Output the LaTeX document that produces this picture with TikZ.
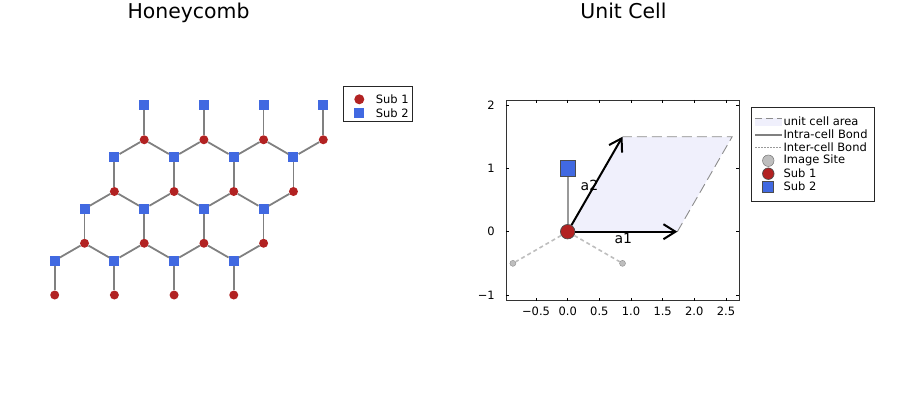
\documentclass[tikz,border=0pt]{standalone}
\usepackage{fontspec}
\setmainfont{DejaVu Sans}
\usetikzlibrary{arrows.meta}

\definecolor{subone}{RGB}{178,34,34}
\definecolor{subtwo}{RGB}{65,105,225}
\definecolor{bondgray}{RGB}{128,128,128}
\definecolor{cellfill}{RGB}{240,240,252}
\definecolor{imggray}{RGB}{190,190,190}

\tikzset{
  sub1/.style={circle, fill=subone, inner sep=0pt, minimum size=9pt},
  sub2/.style={rectangle, fill=subtwo, inner sep=0pt, minimum size=10pt},
  bigsub1/.style={circle, fill=subone, draw=black!70, line width=0.7pt, inner sep=0pt, minimum size=14.5pt},
  bigsub2/.style={rectangle, fill=subtwo, draw=black!70, line width=0.7pt, inner sep=0pt, minimum size=15.5pt},
  imgsite/.style={circle, fill=imggray, draw=black!45, line width=0.4pt, inner sep=0pt, minimum size=6pt},
  bond/.style={draw=bondgray, line width=1.8pt},
  intra/.style={draw=black!40, line width=2.4pt},
  inter/.style={draw=imggray, line width=1.6pt, dash pattern=on 4pt off 3pt},
  celledge/.style={draw=black!45, line width=0.9pt, dash pattern=on 10pt off 5pt},
  vec/.style={draw=black, line width=2pt, -{Straight Barb[length=12pt, width=15pt]}},
  titletext/.style={font=\fontsize{20.4}{24}\selectfont, anchor=base},
  ticktext/.style={font=\fontsize{11.5}{13}\selectfont, inner sep=0pt},
  legtext/.style={font=\fontsize{11.5}{13}\selectfont, anchor=west, inner sep=0pt},
  vectext/.style={font=\fontsize{14}{16}\selectfont, inner sep=0pt}
}

\begin{document}
\begin{tikzpicture}[x=1pt, y=1pt]
\useasboundingbox (0,0) rectangle (900,400);

% titles
\node[titletext] (t1) at (188.5,381.7) {Honeycomb};
\node[titletext] (t2) at (623.5,381.7) {Unit Cell};

% honeycomb lattice
\begin{scope}[shift={(54.7,105)}, x=34.46pt, y=34.5pt]
\foreach \i in {0,...,3}{
  \foreach \j in {0,...,3}{
    \node[sub1] (r\i\j) at ({\i*1.732+\j*0.866},{\j*1.5}) {};
    \node[sub2] (s\i\j) at ({\i*1.732+\j*0.866},{\j*1.5+1}) {};
  }
}
\foreach \i in {0,...,3}{
  \foreach \j in {0,...,3}{
    \draw[bond] (r\i\j) -- (s\i\j);
    \ifnum\j>0
      \pgfmathtruncatemacro\jm{\j-1}
      \draw[bond] (r\i\j) -- (s\i\jm);
      \ifnum\i<3
        \pgfmathtruncatemacro\ip{\i+1}
        \draw[bond] (r\i\j) -- (s\ip\jm);
      \fi
    \fi
  }
}
\end{scope}

% legend of the lattice
\draw[black!85, line width=0.8pt] (343.3,279) rectangle (412.3,314);
\node[sub1, minimum size=10pt] (lg1) at (359.3,300.7) {};
\node[sub2] (lg2) at (359.3,286.7) {};
\node[legtext] (lt1) at (375.7,300.7) {Sub 1};
\node[legtext] (lt2) at (375.7,286.7) {Sub 2};

% unit cell
\begin{scope}[shift={(567.7,168.3)}, x=63.3pt, y=63.3pt]
\fill[cellfill] (0,0) -- (1.732,0) -- (2.598,1.5) -- (0.866,1.5) -- cycle;
\draw[celledge] (1.732,0) -- (2.598,1.5) -- (0.866,1.5);

% frame and ticks
\draw[black!80, line width=0.8pt] (-0.975,-1.09) rectangle (2.706,2.081);
\foreach \x/\t in {-0.5/−0.5, 0/0.0, 0.5/0.5, 1/1.0, 1.5/1.5, 2/2.0, 2.5/2.5}{
  \draw[line width=0.6pt] (\x,-1.09) -- ++(0,3pt);
  \draw[line width=0.6pt] (\x,2.081) -- ++(0,-3pt);
  \node[ticktext, anchor=base] at (\x,-1.09) [yshift=-15.2pt] {\t};
}
\foreach \y/\t in {-1/−1, 0/0, 1/1, 2/2}{
  \draw[line width=0.6pt] (-0.975,\y) -- ++(3pt,0);
  \draw[line width=0.6pt] (2.706,\y) -- ++(-3pt,0);
  \node[ticktext, anchor=east] at (-0.975,\y) [xshift=-11pt] {\t};
}

\coordinate (a1) at (1.732,0);
\coordinate (a2) at (0.866,1.5);
\node[imgsite] (im1) at (-0.866,-0.5) {};
\node[imgsite] (im2) at (0.866,-0.5) {};
\node[bigsub1] (o) at (0,0) {};
\node[bigsub2] (b) at (0,1) {};

\draw[inter] (o) -- (im1);
\draw[inter] (o) -- (im2);
\draw[intra] (o) -- (b);
\draw[vec] (o) -- (a1);
\draw[vec] (o) -- (a2);

\node[vectext] (la1) at (0.88,-0.11) {a1};
\node[vectext] (la2) at (0.344,0.738) {a2};
\end{scope}

% legend of the unit cell
\draw[black!85, line width=0.8pt] (751,198.3) rectangle (874.3,292.3);
\fill[cellfill] (755,274.3) rectangle (781.7,282.3);
\draw[celledge, dash pattern=on 7pt off 4pt] (755,282) -- (781.7,282);
\draw[draw=bondgray, line width=1.8pt] (755,265.3) -- (781.7,265.3);
\draw[draw=black!40, line width=0.7pt, dash pattern=on 1.5pt off 1.5pt] (755,252.3) -- (781.7,252.3);
\node[imgsite, minimum size=11.5pt, draw=black!60] (lg3) at (768.3,239.3) {};
\node[bigsub1, minimum size=11.5pt] (lg4) at (768.3,226.3) {};
\node[bigsub2, minimum size=11pt] (lg5) at (768.3,213.3) {};
\node[legtext] (lt3) at (783.3,278.3) {unit cell area};
\node[legtext] (lt4) at (783.3,265.3) {Intra-cell Bond};
\node[legtext] (lt5) at (783.3,252.3) {Inter-cell Bond};
\node[legtext] (lt6) at (783.3,239.3) {Image Site};
\node[legtext] (lt7) at (783.3,226.3) {Sub 1};
\node[legtext] (lt8) at (783.3,213.3) {Sub 2};
\end{tikzpicture}
\end{document}
